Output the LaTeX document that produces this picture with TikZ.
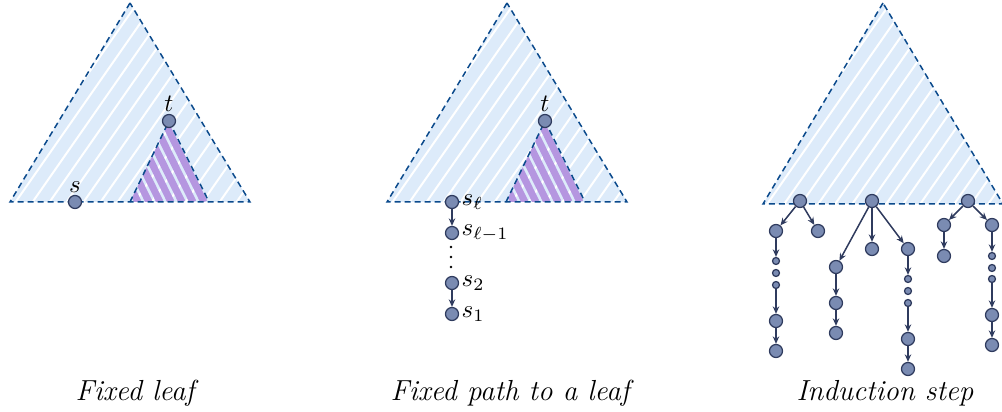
\documentclass[tikz,border=0pt]{standalone}
\usepackage{amsmath,amssymb}
\usepackage{xcolor}
\usepackage{tikz}
\usetikzlibrary{arrows.meta,positioning,calc}
\definecolor{leafInk}{HTML}{2F3B5E}
\definecolor{leafNode}{HTML}{7A8BB2}
\definecolor{leafDash}{HTML}{0B4A8C}
\definecolor{leafSky}{HTML}{DDEBFA}
\definecolor{leafLilac}{HTML}{B596E0}

\begin{document}
\begin{tikzpicture}[x=0.4pt,y=-0.4pt,
  vtx/.style={circle,draw=leafInk,fill=leafNode,line width=0.5pt,minimum size=5.2pt,inner sep=0pt},
  tiny/.style={vtx,minimum size=2.8pt},
  lbl/.style={inner sep=0.8pt},
  edge/.style={-{Stealth[length=3pt,width=2.6pt]},draw=leafInk,line width=0.6pt},
  border/.style={draw=leafDash,line width=0.6pt,dash pattern=on 2.4pt off 1.6pt},
  caption/.style={font=\fontsize{11.6}{14}\selectfont\itshape}]
  \useasboundingbox (0,0) rectangle (1002,412);

  % hatched subtrees
  \foreach \ax/\bx/\by in {130/10/202,507/387/202,883/763/204}{
    \begin{scope}
      \clip (\ax,3) -- (\bx,\by) -- ++(240,0) -- cycle;
      \fill[leafSky] (\bx,0) rectangle ++(240,210);
      \foreach \k in {-10,...,16}
        \draw[white,line width=0.8pt] (\bx+\k*17,210) -- ++(150,-215);
    \end{scope}
  }
  \foreach \tx in {169,545}{
    \begin{scope}
      \clip (\tx,121) -- (\tx-39,202) -- (\tx+40,202) -- cycle;
      \foreach \k in {0,...,8}
        \draw[leafLilac,line width=2.8pt] (\tx-5-\k*11,121) -- ++(40,81);
    \end{scope}
  }

  % outlines
  \draw[border] (130,3) -- (10,202) -- (250,202) -- cycle;
  \draw[border] (130,202) -- (169,121) -- (209,202);
  \draw[border] (507,3) -- (387,202) -- (627,202) -- cycle;
  \draw[border] (506,202) -- (545,121) -- (585,202);
  \draw[border] (883,3) -- (763,204) -- (1003,204) -- cycle;

  % fixed leaf
  \node[vtx,label={[lbl]above:$t$}] (t1) at (169,121) {};
  \node[vtx,label={[lbl]above:$s$}] (s) at (75,202) {};

  % fixed path
  \node[vtx,label={[lbl]above:$t$}] (t2) at (545,121) {};
  \node[vtx,label={[lbl]right:$s_\ell$}] (sl) at (452,202) {};
  \node[vtx,label={[lbl]right:$s_{\ell-1}$}] (slm) at (452,233) {};
  \foreach \y in {247,257,267}
    \fill[black] (451,\y) circle (0.55pt);
  \node[vtx,label={[lbl]right:$s_2$}] (s2) at (452,283) {};
  \node[vtx,label={[lbl]right:$s_1$}] (s1) at (452,314) {};
  \draw[edge] (sl) -- (slm);
  \draw[edge] (s2) -- (s1);

  % induction step
  \node[vtx] (r1) at (800,201) {};
  \node[vtx] (a1) at (776,231) {};
  \node[vtx] (b1) at (818,231) {};
  \node[tiny] (d11) at (776,261) {};
  \node[tiny] (d12) at (776,273) {};
  \node[tiny] (d13) at (776,285) {};
  \node[vtx] (c1) at (776,321) {};
  \node[vtx] (e1) at (776,351) {};
  \draw[edge] (r1) -- (a1);
  \draw[edge] (r1) -- (b1);
  \draw[edge] (a1) -- (d11);
  \draw[edge] (d13) -- (c1);
  \draw[edge] (c1) -- (e1);

  \node[vtx] (r2) at (872,201) {};
  \node[vtx] (a2) at (836,267) {};
  \node[vtx] (b2) at (872,249) {};
  \node[vtx] (c2) at (908,249) {};
  \node[vtx] (f2) at (836,303) {};
  \node[vtx] (g2) at (836,333) {};
  \node[tiny] (d21) at (908,279) {};
  \node[tiny] (d22) at (908,291) {};
  \node[tiny] (d23) at (908,303) {};
  \node[vtx] (h2) at (908,339) {};
  \node[vtx] (k2) at (908,369) {};
  \draw[edge] (r2) -- (a2);
  \draw[edge] (r2) -- (b2);
  \draw[edge] (r2) -- (c2);
  \draw[edge] (a2) -- (f2);
  \draw[edge] (f2) -- (g2);
  \draw[edge] (c2) -- (d21);
  \draw[edge] (d23) -- (h2);
  \draw[edge] (h2) -- (k2);

  \node[vtx] (r3) at (968,201) {};
  \node[vtx] (a3) at (944,225) {};
  \node[vtx] (b3) at (992,225) {};
  \node[vtx] (c3) at (944,256) {};
  \node[tiny] (d31) at (992,256) {};
  \node[tiny] (d32) at (992,268) {};
  \node[tiny] (d33) at (992,279) {};
  \node[vtx] (e3) at (992,315) {};
  \node[vtx] (f3) at (992,345) {};
  \draw[edge] (r3) -- (a3);
  \draw[edge] (r3) -- (b3);
  \draw[edge] (a3) -- (c3);
  \draw[edge] (b3) -- (d31);
  \draw[edge] (d33) -- (e3);
  \draw[edge] (e3) -- (f3);

  % captions
  \node[caption] (cap1) at (135,393) {Fixed leaf};
  \node[caption] (cap2) at (510,393) {Fixed path to a leaf};
  \node[caption] (cap3) at (885,393) {Induction step};
\end{tikzpicture}
\end{document}
